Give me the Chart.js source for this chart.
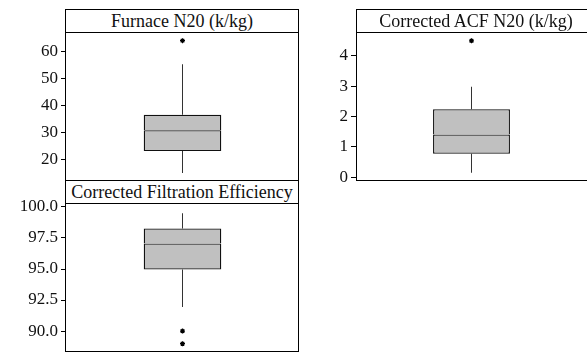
<!DOCTYPE html>
<html>
<head>
<meta charset="utf-8">
<script src="https://cdn.jsdelivr.net/npm/chart.js@4.4.1/dist/chart.umd.min.js"></script>
<style>
  body { margin: 0; background: #fff; width: 587px; height: 352px; overflow: hidden; position: relative;
         font-family: "Liberation Serif", "Times New Roman", Times, "DejaVu Serif", serif; }
  canvas { position: absolute; }
  .frame { position: absolute; box-sizing: border-box; border: 1px solid #000; z-index: 2; }
  .title { height: 22px; border-bottom: 1px solid #000; background: #fff; text-align: center;
           font-size: 18px; line-height: 23px; color: #111; white-space: nowrap; overflow: hidden; }
</style>
</head>
<body>
<div class="frame" style="left:65px; top:9px; width:234px; height:172px;"><div class="title">Furnace N20 (k/kg)</div></div>
<div class="frame" style="left:356px; top:9px; width:240px; height:172px;"><div class="title">Corrected ACF N20 (k/kg)</div></div>
<div class="frame" style="left:65px; top:180px; width:234px; height:172px;"><div class="title">Corrected Filtration Efficiency</div></div>

<!-- canvases carry 12px extra above and below the plot so end tick labels are not cut -->
<canvas id="furnace" width="299" height="172" style="left:0; top:20px;"></canvas>
<canvas id="acf" width="297" height="172" style="left:290px; top:20px;"></canvas>
<canvas id="eff" width="299" height="173" style="left:0; top:191px;"></canvas>

<script>
// box stats: [lower whisker, Q1, median, Q3, upper whisker]
const furnaceBox = [15.2, 23.3, 31.0, 36.7, 55.4];
const furnaceOutliers = [64.1];
const furnaceTicks = [20, 30, 40, 50, 60];

const acfBox = [0.15, 0.77, 1.41, 2.24, 2.98];
const acfOutliers = [4.49];
const acfTicks = [0, 1, 2, 3, 4];

const effBox = [91.94, 94.95, 97.05, 98.26, 99.5];
const effOutliers = [90.0, 88.98];
const effTicks = [90.0, 92.5, 95.0, 97.5, 100.0];

const serif = '"Liberation Serif", "Times New Roman", Times, "DejaVu Serif", serif';

function whisker(from, to) {
    return {
        data: [[from, to]],
        backgroundColor: '#333',
        borderWidth: 0,
        barThickness: 1,
        inflateAmount: 0,
        grouped: false,
        order: 3
    };
}

// skip: edge left open so the median is drawn only once
function boxHalf(from, to, skip) {
    return {
        data: [[from, to]],
        backgroundColor: '#c0c0c0',
        borderColor: '#111',
        borderWidth: 1.3,
        borderSkipped: skip,
        inflateAmount: 0,
        barPercentage: 0.333,
        categoryPercentage: 1,
        grouped: false,
        order: 2
    };
}

function boxChart(id, box, outliers, ticks, min, max, digits) {
    const ctx = document.getElementById(id).getContext('2d');
    const cat = 'A';
    new Chart(ctx, {
        type: 'bar',
        data: {
            labels: [cat],
            datasets: [
                whisker(box[0], box[1]),
                whisker(box[3], box[4]),
                boxHalf(box[1], box[2], false),
                boxHalf(box[2], box[3], 'bottom'),
                {
                    type: 'line',
                    data: outliers.map(v => ({ x: cat, y: v })),
                    showLine: false,
                    pointStyle: 'star',
                    pointRadius: 2.5,
                    borderColor: '#000',
                    borderWidth: 1.2,
                    backgroundColor: '#000',
                    order: 1
                }
            ]
        },
        options: {
            responsive: false,
            animation: false,
            layout: { padding: { top: 12, bottom: 12, left: 0, right: 0 }, autoPadding: false },
            plugins: { legend: { display: false }, tooltip: { enabled: false } },
            scales: {
                x: { display: false },
                y: {
                    min: min,
                    max: max,
                    afterBuildTicks: s => { s.ticks = ticks.map(v => ({ value: v })); },
                    afterFit: s => { s.width = 66; s.paddingTop = 0; s.paddingBottom = 0; },
                    border: { display: false },
                    grid: { drawOnChartArea: false, drawTicks: true, tickLength: 5, color: '#000' },
                    ticks: {
                        padding: 3,
                        color: '#111',
                        font: { family: serif, size: 17 },
                        callback: v => v.toFixed(digits)
                    }
                }
            }
        }
    });
}

boxChart('furnace', furnaceBox, furnaceOutliers, furnaceTicks, 12.6, 67.3, 0);
boxChart('acf', acfBox, acfOutliers, acfTicks, -0.09, 4.78, 0);
boxChart('eff', effBox, effOutliers, effTicks, 88.31, 100.32, 1);
</script>
</body>
</html>
